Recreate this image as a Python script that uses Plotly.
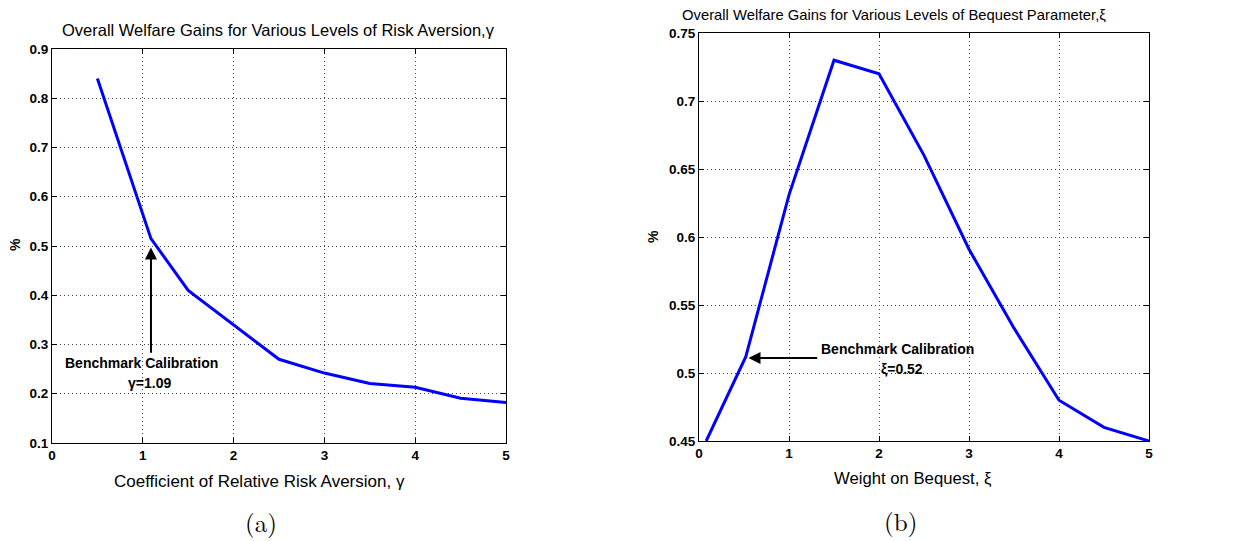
import plotly.graph_objects as go

# Panel (a): welfare gains vs risk aversion
gamma_x = [0.5, 1.09, 1.5, 2.0, 2.5, 3.0, 3.5, 4.0, 4.5, 5.0]
gamma_y = [0.84, 0.515, 0.41, 0.34, 0.27, 0.242, 0.221, 0.213, 0.191, 0.182]

# Panel (b): welfare gains vs bequest parameter
xi_x = [0.08, 0.52, 1.0, 1.5, 2.0, 2.5, 3.0, 3.5, 4.0, 4.5, 5.0]
xi_y = [0.45, 0.512, 0.631, 0.730, 0.720, 0.660, 0.591, 0.533, 0.480, 0.460, 0.450]

x_ticks = [0, 1, 2, 3, 4, 5]
ya_ticks = [0.1, 0.2, 0.3, 0.4, 0.5, 0.6, 0.7, 0.8, 0.9]
ya_text = ["0.1", "0.2", "0.3", "0.4", "0.5", "0.6", "0.7", "0.8", "0.9"]
yb_ticks = [0.45, 0.5, 0.55, 0.6, 0.65, 0.7, 0.75]
yb_text = ["0.45", "0.5", "0.55", "0.6", "0.65", "0.7", "0.75"]

W, H = 1252, 541
OFF = 8  # page body margin
SANS = "Liberation Sans, Arial, sans-serif"
SERIF = "Latin Modern Roman, DejaVu Serif, Liberation Serif, serif"

fig = go.Figure()
fig.add_trace(go.Scatter(x=gamma_x, y=gamma_y, mode="lines",
                         line=dict(color="#0000FF", width=3),
                         xaxis="x", yaxis="y", showlegend=False))
fig.add_trace(go.Scatter(x=xi_x, y=xi_y, mode="lines",
                         line=dict(color="#0000FF", width=3),
                         xaxis="x2", yaxis="y2", showlegend=False))

def px_x(p):
    return (p - OFF) / W

def px_y(p):
    return 1 - (p - OFF) / H

axis_common = dict(
    showline=True, linecolor="black", linewidth=1.2, mirror="ticks",
    ticks="inside", ticklen=5, tickcolor="black",
    showgrid=True, gridcolor="#444444", griddash="1px,3px", gridwidth=1,
    zeroline=False, automargin=False,
    tickfont=dict(family=SANS, size=13.5, color="black", weight="bold"),
)

fig.update_layout(
    width=W, height=H,
    margin=dict(l=0, r=0, t=0, b=0, autoexpand=False),
    paper_bgcolor="white", plot_bgcolor="white",
    xaxis=dict(domain=[px_x(52), px_x(506)], range=[0, 5], tickvals=x_ticks,
               anchor="y", **axis_common),
    yaxis=dict(domain=[px_y(443), px_y(49)], range=[0.1, 0.9],
               tickvals=ya_ticks, ticktext=ya_text, anchor="x", **axis_common),
    xaxis2=dict(domain=[px_x(699), px_x(1149)], range=[0, 5], tickvals=x_ticks,
                anchor="y2", **axis_common),
    yaxis2=dict(domain=[px_y(441), px_y(33)], range=[0.45, 0.75],
                tickvals=yb_ticks, ticktext=yb_text, anchor="x2", **axis_common),
)

def paper_text(text, x, y, size, family=SANS, bold=False, angle=0):
    f = dict(family=family, size=size, color="black")
    if bold:
        f["weight"] = "bold"
    return dict(text=text, x=px_x(x), y=px_y(y), xref="paper", yref="paper",
                xanchor="center", yanchor="middle", showarrow=False,
                textangle=angle, font=f)

anns = []
# Titles
anns.append(paper_text("Overall Welfare Gains for Various Levels of Risk Aversion,γ",
                       278, 30, 16.5))
anns.append(paper_text("Overall Welfare Gains for Various Levels of Bequest Parameter,ξ",
                       894, 15, 14.8))
# Axis titles
anns.append(paper_text("Coefficient of Relative Risk Aversion, γ", 259, 481, 17))
anns.append(paper_text("Weight on Bequest, ξ", 913, 478, 16.7))
anns.append(paper_text("%", 15, 245, 14, bold=True, angle=-90))
anns.append(paper_text("%", 653, 237, 14, bold=True, angle=-90))
# Panel labels
anns.append(paper_text("(a)", 261, 521, 25, family=SERIF))
anns.append(paper_text("(b)", 900, 520, 25, family=SERIF))

# Benchmark arrows
anns.append(dict(x=1.09, y=0.497, ax=1.09, ay=0.28, xref="x", yref="y",
                 axref="x", ayref="y", text="", showarrow=True,
                 arrowhead=2, arrowsize=1.2, arrowwidth=2, arrowcolor="black"))
anns.append(dict(text="Benchmark Calibration", x=0.99, y=0.262, xref="x", yref="y",
                 xanchor="center", yanchor="middle", showarrow=False,
                 font=dict(family=SANS, size=14, color="black", weight="bold")))
anns.append(dict(text="γ=1.09", x=1.07, y=0.221, xref="x", yref="y",
                 xanchor="center", yanchor="middle", showarrow=False,
                 font=dict(family=SANS, size=14, color="black", weight="bold")))

anns.append(dict(x=0.55, y=0.511, ax=1.33, ay=0.511, xref="x2", yref="y2",
                 axref="x2", ayref="y2", text="", showarrow=True,
                 arrowhead=2, arrowsize=1.2, arrowwidth=2, arrowcolor="black"))
anns.append(dict(text="Benchmark Calibration", x=1.33, y=0.518, xref="x2", yref="y2",
                 xanchor="left", yanchor="middle", showarrow=False,
                 font=dict(family=SANS, size=14, color="black", weight="bold")))
anns.append(dict(text="ξ=0.52", x=2.25, y=0.503, xref="x2", yref="y2",
                 xanchor="center", yanchor="middle", showarrow=False,
                 font=dict(family=SANS, size=14, color="black", weight="bold")))

fig.update_layout(annotations=anns)
fig.write_html("out.html")
